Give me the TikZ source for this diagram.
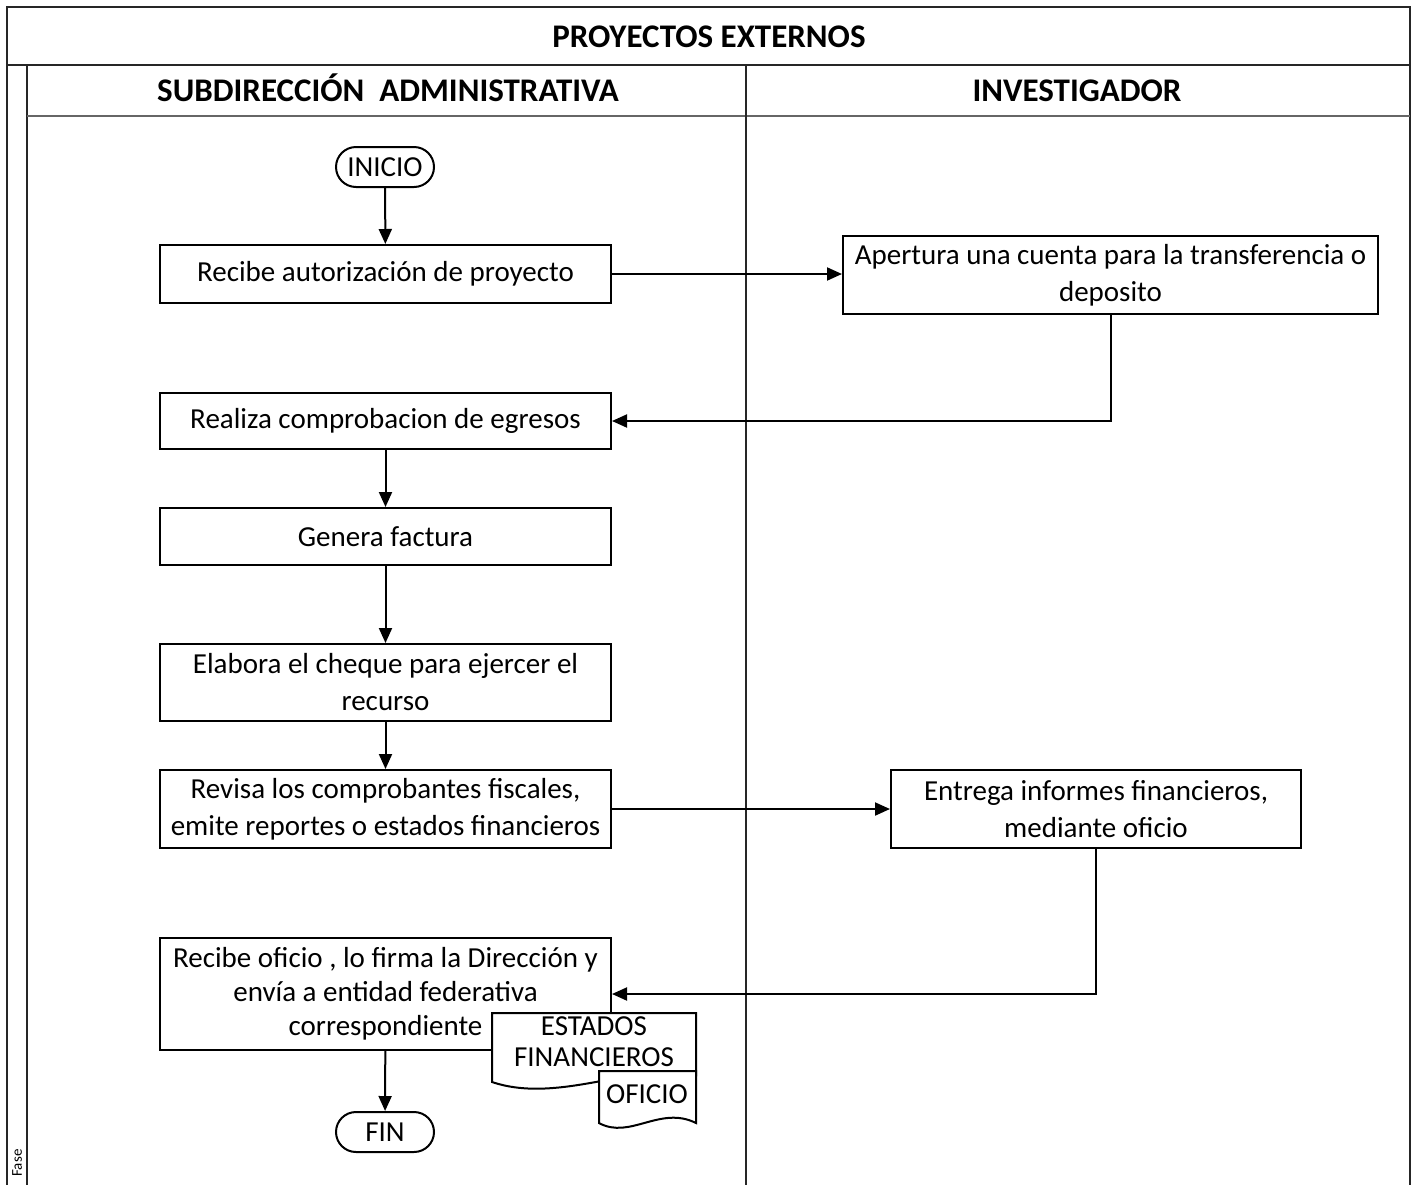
\documentclass[tikz,border=0pt]{standalone}
\usepackage{fontspec}
\setmainfont{Carlito}
\usetikzlibrary{arrows.meta}
\begin{document}
\begin{tikzpicture}[x=1pt,y=-1pt,
  frame/.style={line width=2pt, draw=black!85},
  box/.style={draw, line width=2pt, minimum width=451pt, inner sep=0pt, align=center, font=\fontsize{29}{37}\selectfont},
  term/.style={draw, line width=2pt, rounded corners=20pt, minimum width=98pt, minimum height=40pt, inner sep=0pt, font=\fontsize{29}{34}\selectfont},
  hdr/.style={font=\bfseries\fontsize{33}{36}\selectfont, anchor=base, inner sep=0pt},
  doctext/.style={align=center, inner sep=0pt, font=\fontsize{29}{31}\selectfont},
  arr/.style={line width=2pt, -{Triangle[length=15pt,width=13pt]}}]
\useasboundingbox (0,0) rectangle (1413,1184);
\clip (0,0) rectangle (1413,1184);
% frame
\draw[frame] (7,1195) -- (7,7) -- (1410,7) -- (1410,1195);
\draw[frame] (7,65) -- (1410,65);
\draw[frame] (27,65) -- (27,1195);
\draw[frame, draw=black!60] (27,116) -- (1410,116);
\draw[frame] (746,65) -- (746,1195);
\node[hdr] (title) at (709,47) {PROYECTOS EXTERNOS};
\node[hdr] (lane1) at (388,101) {SUBDIRECCIÓN\ \ ADMINISTRATIVA};
\node[hdr] (lane2) at (1077,101) {INVESTIGADOR};
\node[rotate=90, font=\fontsize{15}{15}\selectfont, inner sep=0pt] (fase) at (17,1163) {Fase};
% nodes
\node[term] (ini) at (385,167) {INICIO};
\node[box, minimum height=58pt] (a) at (385.5,274) {Recibe autorización de proyecto};
\node[box, minimum width=535pt, minimum height=78pt] (b) at (1110.5,275) {Apertura una cuenta para la transferencia o\\deposito};
\node[box, minimum height=56pt] (c) at (385.5,421) {Realiza comprobacion de egresos};
\node[box, minimum height=57pt] (d) at (385.5,536.5) {Genera factura};
\node[box, minimum height=77pt] (e) at (385.5,682.5) {Elabora el cheque para ejercer el\\recurso};
\node[box, minimum height=78pt] (f) at (385.5,809) {Revisa los comprobantes fiscales,\\emite reportes o estados financieros};
\node[box, minimum width=410pt, minimum height=78pt] (g) at (1096,809) {Entrega informes financieros,\\mediante oficio};
\node[box, minimum height=112pt, font=\fontsize{29}{34}\selectfont] (h) at (385.5,994) {Recibe oficio , lo firma la Dirección y\\envía a entidad federativa\\correspondiente};
\node[term] (fin) at (385,1132) {FIN};
% documents
\draw[line width=2pt, fill=white] (492,1013) -- (696,1013) -- (696,1075) .. controls (640,1060) and (560,1105) .. (492,1082) -- cycle;
\node[doctext] (doc1) at (594,1042) {ESTADOS\\FINANCIEROS};
\draw[line width=2pt, fill=white] (599,1071) -- (696,1071) -- (696,1123) .. controls (660,1105) and (630,1140) .. (599,1123) -- cycle;
\node[doctext] (doc2) at (647,1094) {OFICIO};
% connectors
\draw[arr] (ini) -- (a);
\draw[arr] (a.east) -- (a.east -| b.west);
\draw[arr] (b.south) |- (c.east);
\draw[arr] (c) -- (d);
\draw[arr] (d) -- (e);
\draw[arr] (e) -- (f);
\draw[arr] (f.east) -- (f.east -| g.west);
\draw[arr] (g.south) |- (h.east);
\draw[arr] (h) -- (fin);
\end{tikzpicture}
\end{document}
